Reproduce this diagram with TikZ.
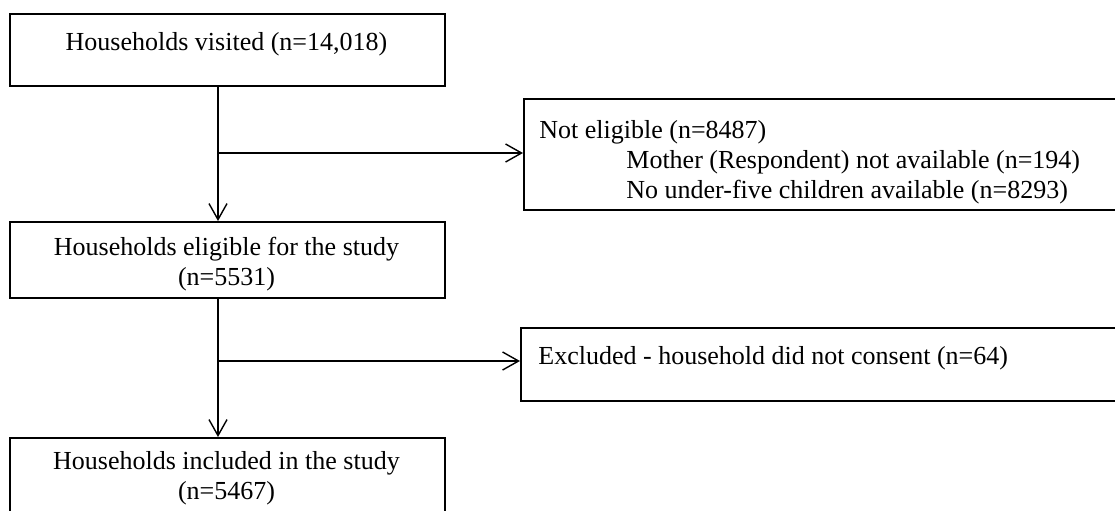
\documentclass[tikz,border=0pt]{standalone}
\usepackage{fontspec}
\setmainfont{Liberation Serif}
\usetikzlibrary{arrows.meta}
\begin{document}
\begin{tikzpicture}[x=0.5pt,y=-0.5pt,
  box/.style={draw, line width=0.9pt, anchor=north west, inner sep=0pt},
  txt/.style={font=\fontsize{13}{15}\selectfont, inner sep=0pt, anchor=base},
  ltxt/.style={txt, anchor=base west},
  arr/.style={line width=0.7pt, -{Straight Barb[length=8pt,width=9pt,line width=0.7pt]}}]
\useasboundingbox (0,0) rectangle (1115,510);
\clip (0,0) rectangle (1115,510);
\fill[white] (0,0) rectangle (1115,510);
% boxes
\node[box, minimum width=217.5pt, minimum height=36pt] (b1) at (9,13) {};
\node[box, minimum width=301pt, minimum height=55.5pt] (b2) at (523,98) {};
\node[box, minimum width=217.5pt, minimum height=38pt] (b3) at (9,221) {};
\node[box, minimum width=302.5pt, minimum height=36.5pt] (b4) at (520,327) {};
\node[box, minimum width=217.5pt, minimum height=45pt] (b5) at (9,437) {};
% texts
\node[txt] (t1) at (226.5,50) {Households visited (n=14,018)};
\node[ltxt] (t2a) at (539,138) {Not eligible (n=8487)};
\node[ltxt] (t2b) at (626,168) {Mother (Respondent) not available (n=194)};
\node[ltxt] (t2c) at (626,198) {No under-five children available (n=8293)};
\node[txt] (t3a) at (226.5,255) {Households eligible for the study};
\node[txt] (t3b) at (226.5,285) {(n=5531)};
\node[ltxt] (t4) at (538,364) {Excluded - household did not consent (n=64)};
\node[txt] (t5a) at (226.5,469) {Households included in the study};
\node[txt] (t5b) at (226.5,499) {(n=5467)};
% connectors
\coordinate (j1) at (218,153);
\coordinate (j2) at (218,361);
\draw[arr] (b1.south -| j1) -- (b3.north -| j1);
\draw[arr] (j1) -- (j1 -| b2.west);
\draw[arr] (b3.south -| j2) -- (b5.north -| j2);
\draw[arr] (j2) -- (j2 -| b4.west);
\end{tikzpicture}
\end{document}
